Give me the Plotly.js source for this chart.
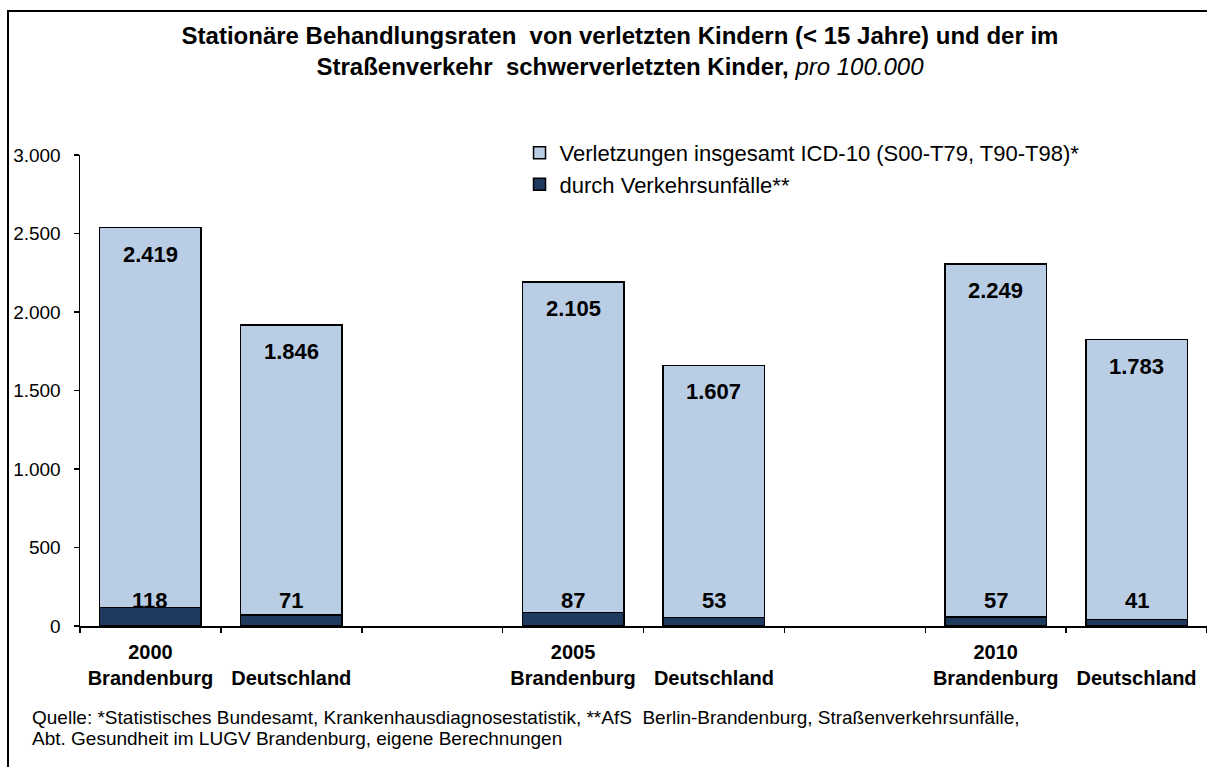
<!DOCTYPE html>
<html>
<head>
<meta charset="utf-8">
<script src="https://cdn.plot.ly/plotly-3.0.1.min.js"></script>
<style>
  body { margin: 0; background: #fff; }
  #chart { width: 1207px; height: 767px; }
</style>
</head>
<body>
<div id="chart"></div>
<script>
// Werte pro 100.000 Kinder (< 15 Jahre)
var years = ['2000', '2005', '2010'];
var regions = ['Brandenburg', 'Deutschland'];
var categories = ['Brandenburg 2000', 'Deutschland 2000', 'Brandenburg 2005', 'Deutschland 2005', 'Brandenburg 2010', 'Deutschland 2010'];
var verletzungen = [2419, 1846, 2105, 1607, 2249, 1783];
var verkehr = [118, 71, 87, 53, 57, 41];

var fontFamily = 'Liberation Sans, Arial, sans-serif';

// x-Achse mit Lücken zwischen den Jahren
var slots = [];
var slotText = [];
for (let i = 0; i < years.length; i++) {
    for (let j = 0; j < regions.length; j++) {
        slots.push(regions[j] + ' ' + years[i]);
        if (j === 0) {
            slotText.push('<b>' + years[i] + '</b><br><b>' + regions[j] + '</b>');
        } else {
            slotText.push('<br><b>' + regions[j] + '</b>');
        }
    }
    if (i < years.length - 1) {
        slots.push('gap' + i);
        slotText.push('');
    }
}

function fmt(v) {
    return String(v).replace(/\B(?=(\d{3})+(?!\d))/g, '.');
}

var darkTrace = {
    x: categories,
    y: verkehr,
    type: 'bar',
    name: 'durch Verkehrsunfälle**',
    marker: {color: '#1F3A5F', line: {color: '#000', width: 1.5}},
    hoverinfo: 'skip'
};

var lightTrace = {
    x: categories,
    y: verletzungen,
    type: 'bar',
    name: 'Verletzungen insgesamt ICD-10 (S00-T79, T90-T98)*',
    marker: {color: '#B9CDE5', line: {color: '#000', width: 1.5}},
    hoverinfo: 'skip'
};

var annotations = [];
for (let i = 0; i < categories.length; i++) {
    annotations.push({
        x: categories[i],
        y: verkehr[i] + verletzungen[i],
        yanchor: 'top',
        yshift: -12,
        text: '<b>' + fmt(verletzungen[i]) + '</b>',
        showarrow: false,
        font: {family: fontFamily, size: 22, color: '#000'}
    });
    annotations.push({
        x: categories[i],
        y: 0,
        yanchor: 'bottom',
        yshift: 11,
        text: '<b>' + fmt(verkehr[i]) + '</b>',
        showarrow: false,
        font: {family: fontFamily, size: 22, color: '#000'}
    });
}

var quelle = [
    'Quelle: *Statistisches Bundesamt, Krankenhausdiagnosestatistik, **AfS  Berlin-Brandenburg, Straßenverkehrsunfälle,',
    'Abt. Gesundheit im LUGV Brandenburg, eigene Berechnungen'
];
for (let k = 0; k < quelle.length; k++) {
    annotations.push({
        xref: 'paper', yref: 'paper',
        x: (30 - 80) / 1127, y: (626 - 717 - 21 * k) / 471,
        xanchor: 'left', yanchor: 'middle', align: 'left',
        showarrow: false,
        text: quelle[k],
        font: {family: fontFamily, size: 19, color: '#000'}
    });
}

var layout = {
    width: 1207,
    height: 767,
    margin: {l: 80, r: 0, t: 155, b: 141},
    paper_bgcolor: '#fff',
    plot_bgcolor: '#fff',
    separators: ',.',
    font: {family: fontFamily, size: 19, color: '#000'},
    title: {
        text: '<b>Stationäre Behandlungsraten  von verletzten Kindern (&lt; 15 Jahre) und der im</b><br><b>Straßenverkehr  schwerverletzten Kinder,</b> <i>pro 100.000</i>',
        font: {family: fontFamily, size: 24, color: '#000'},
        x: 620 / 1207,
        xanchor: 'center',
        xref: 'container',
        y: 1 - 44 / 767,
        yanchor: 'top',
        yref: 'container'
    },
    barmode: 'stack',
    bargap: 0.28,
    showlegend: true,
    legend: {
        x: 0.39,
        y: 1.049,
        xanchor: 'left',
        yanchor: 'top',
        traceorder: 'reversed',
        bgcolor: 'rgba(0,0,0,0)',
        font: {family: fontFamily, size: 22, color: '#000'}
    },
    xaxis: {
        type: 'category',
        categoryorder: 'array',
        categoryarray: slots,
        range: [-0.5, slots.length - 0.5],
        tickmode: 'array',
        tickvals: slots,
        ticktext: slotText,
        tickson: 'boundaries',
        ticks: 'outside',
        ticklen: 5,
        tickwidth: 1.5,
        tickcolor: '#000',
        ticklabelstandoff: 7,
        showline: true,
        linecolor: '#000',
        linewidth: 1.5,
        showgrid: false,
        zeroline: false,
        tickfont: {family: fontFamily, size: 20, color: '#000'}
    },
    yaxis: {
        range: [0, 3000],
        tickvals: [0, 500, 1000, 1500, 2000, 2500, 3000],
        tickformat: ',',
        ticks: 'outside',
        ticklen: 5,
        tickwidth: 1.5,
        tickcolor: '#000',
        ticklabelstandoff: 9,
        showline: true,
        linecolor: '#000',
        linewidth: 1.5,
        showgrid: false,
        zeroline: false,
        tickfont: {family: fontFamily, size: 19, color: '#000'}
    },
    shapes: [{
        type: 'rect',
        xref: 'paper', yref: 'paper',
        x0: (8 - 80) / 1127, x1: 1.2,
        y0: (626 - 800) / 471, y1: (626 - 11) / 471,
        line: {color: '#000', width: 2}
    }],
    annotations: annotations
};

Plotly.newPlot('chart', [darkTrace, lightTrace], layout, {displayModeBar: false, staticPlot: true});
</script>
</body>
</html>
